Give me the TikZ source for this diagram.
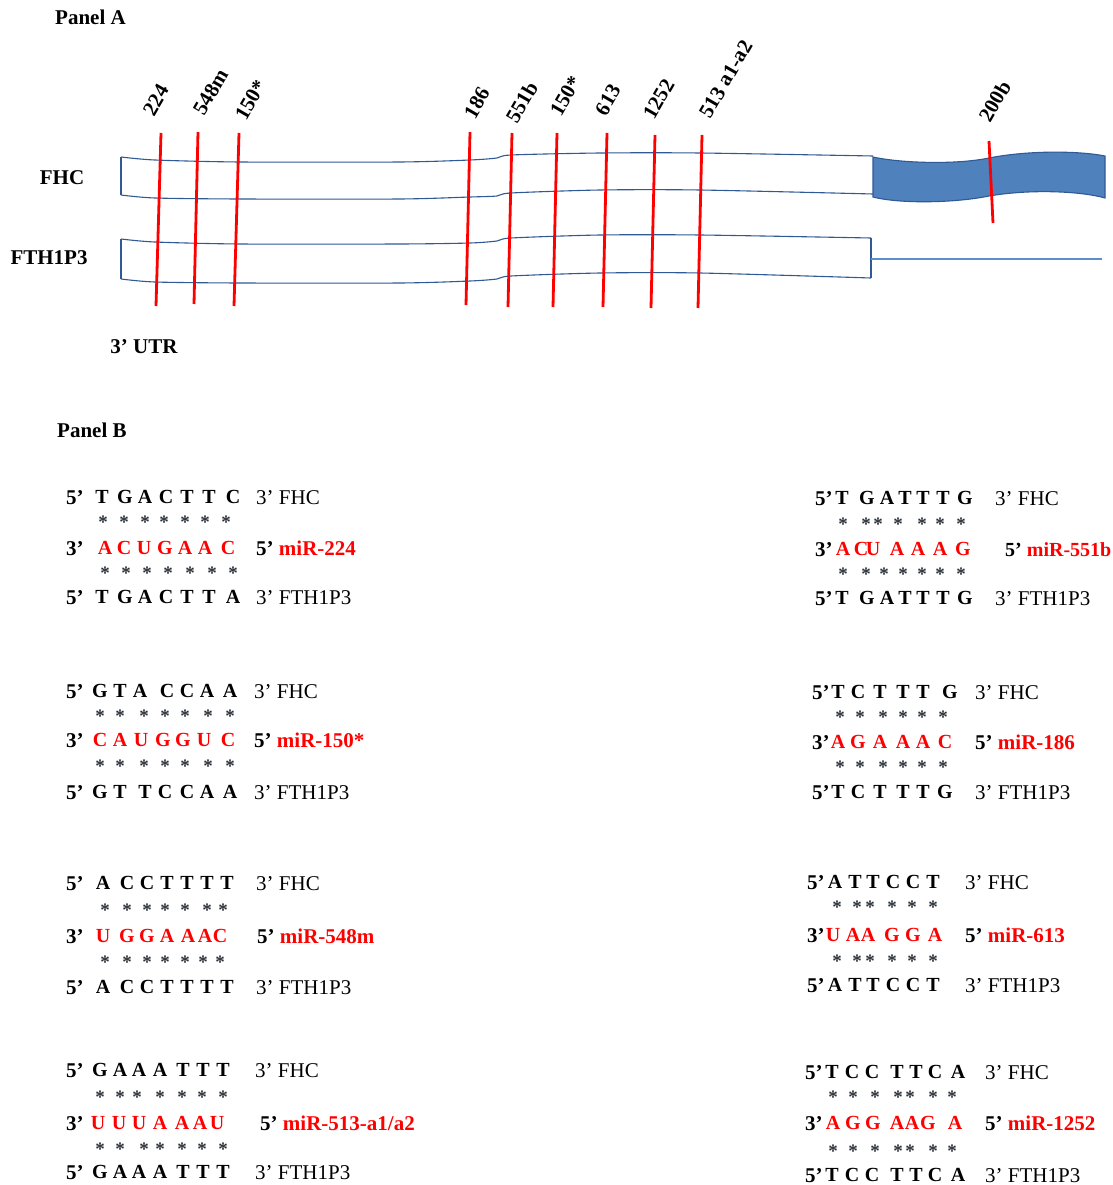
\documentclass[tikz,border=0pt]{standalone}
\usepackage{fontspec}
\setmainfont{Liberation Serif}
\definecolor{mirred}{HTML}{FF0000}
\definecolor{strandblue}{HTML}{2F5A96}
\definecolor{fillblue}{HTML}{4F81BD}
\definecolor{thinblue}{HTML}{5B8FCB}
\definecolor{stargray}{HTML}{2A3038}
\newcommand\seqline[4]{\foreach \x/\l [count=\i] in {#3} \node[seq,text=#2] (#4\i) at (\x,#1) {\l};}
\newcommand\starline[3]{\foreach \x [count=\i] in {#2} \node[star] (#3\i) at (\x,#1) {*};}
\tikzset{
  lbl/.style={font=\fontsize{21}{24}\selectfont\bfseries, inner sep=0pt, text height=14pt, text depth=0pt},
  rlbl/.style={font=\fontsize{21}{24}\selectfont\bfseries, inner sep=0pt, rotate=60},
  endlbl/.style={font=\fontsize{21}{24}\selectfont, inner sep=0pt, anchor=west, text height=14pt, text depth=0pt},
  prelbl/.style={font=\fontsize{21}{24}\selectfont\bfseries, inner sep=0pt, anchor=west, text height=14pt, text depth=0pt},
  seq/.style={font=\fontsize{20}{24}\selectfont\bfseries, inner sep=0pt, text height=13.5pt, text depth=0pt},
  star/.style={font=\fontsize{19}{22}\selectfont\bfseries, inner sep=0pt, text=stargray, text height=20pt, text depth=0pt},
  site/.style={draw=mirred, line width=2.8pt},
  strand/.style={draw=strandblue, line width=1.1pt},
}
\begin{document}
\begin{tikzpicture}[x=1pt,y=-1pt]
\useasboundingbox (0,0) rectangle (1112,1185);
\fill[white] (0,0) rectangle (1112,1185);

% ---------------- Panel A ----------------
\node[prelbl] (panelA) at (55,18) {Panel A};
\node[lbl] (fhc) at (62,178) {FHC};
\node[lbl] (fth) at (49,257) {FTH1P3};
\node[lbl] (utr) at (144,346) {3' UTR};

% FHC strand (white part)
\draw[strand] plot[smooth, tension=0.45] coordinates {(121,157) (155,160) (240,162) (400,162) (470,160) (497,158) (511,155) (600,153) (700,153) (873,156)};
\draw[strand] plot[smooth, tension=0.45] coordinates {(121,195) (155,198) (240,199) (400,199) (470,197) (497,196) (511,193) (600,190) (700,190) (873,194)};
\draw[strand] (121,157) -- (121,195);
% FHC strand (blue coding part)
\filldraw[fill=fillblue, draw=strandblue, line width=1.1pt]
  (873,157) .. controls (900,163) and (955,165) .. (989,158)
  .. controls (1030,150) and (1080,151) .. (1105,156)
  -- (1105,198)
  .. controls (1080,191) and (1030,189) .. (989,196)
  .. controls (955,203) and (900,204) .. (873,197) -- cycle;

% FTH1P3 strand
\draw[strand] plot[smooth, tension=0.45] coordinates {(121,239) (155,242) (240,244) (400,244) (470,243) (497,241) (511,238) (600,235) (700,235) (871,238)};
\draw[strand] plot[smooth, tension=0.45] coordinates {(121,279) (155,282) (240,283) (400,283) (470,281) (497,279) (511,276) (600,273) (700,273) (871,278)};
\draw[strand] (121,239) -- (121,279);
\draw[strand] (871,238) -- (871,278);
\coordinate (tailA) at (871,259);
\coordinate (tailB) at (1102,259);
\draw[draw=thinblue, line width=1.2pt] (tailA) -- (tailB);

% binding sites
\draw[site] (161,133) -- (156,306);
\draw[site] (198,132) -- (194,304);
\draw[site] (239,133) -- (234,306);
\draw[site] (470,132) -- (466,305);
\draw[site] (512,133) -- (508,307);
\draw[site] (557,133) -- (553,307);
\draw[site] (607,133) -- (603,307);
\draw[site] (655,135) -- (651,308);
\draw[site] (702,135) -- (698,308);
\draw[site] (989,141) -- (993,223);

\node[rlbl] (l224) at (156,100) {224};
\node[rlbl] (l548) at (211,92) {548m};
\node[rlbl] (l150a) at (251,100) {150*};
\node[rlbl] (l186) at (477,103) {186};
\node[rlbl] (l551) at (522,102) {551b};
\node[rlbl] (l150b) at (566,96) {150*};
\node[rlbl] (l613) at (608,100) {613};
\node[rlbl] (l1252) at (659,99) {1252};
\node[rlbl] (l513) at (726,79) {513 a1-a2};
\node[rlbl] (l200) at (995,101) {200b};

% ---------------- Panel B ----------------
\node[prelbl] (panelB) at (57,430) {Panel B};

% miR-224
\node[prelbl] (a1p) at (66,497) {5'};
\seqline{497}{black}{102/T,125/G,145/A,166/C,187/T,209/T,233/C}{a1s}
\node[endlbl] (a1e) at (256,497) {3' FHC};
\starline{518}{103,124,145,164,185,205,226}{a1x}
\node[prelbl] (a2p) at (66,548) {3'};
\seqline{548}{mirred}{105/A,124/C,144/U,165/G,185/A,205/A,228/C}{a2s}
\node[prelbl] (a2e) at (256,548) {5' \textcolor{mirred}{miR-224}};
\starline{569}{105,126,147,168,190,212,233}{a2x}
\node[prelbl] (a3p) at (66,597) {5'};
\seqline{597}{black}{102/T,125/G,145/A,166/C,187/T,209/T,233/A}{a3s}
\node[endlbl] (a3e) at (256,597) {3' FTH1P3};

% miR-150*
\node[prelbl] (b1p) at (66,691) {5'};
\seqline{691}{black}{100/G,120/T,140/A,167/C,187/C,207/A,230/A}{b1s}
\node[endlbl] (b1e) at (254,691) {3' FHC};
\starline{712}{100,120,144,165,185,208,230}{b1x}
\node[prelbl] (b2p) at (66,740) {3'};
\seqline{740}{mirred}{100/C,120/A,141/U,163/G,183/G,204/U,228/C}{b2s}
\node[prelbl] (b2e) at (254,740) {5' \textcolor{mirred}{miR-150*}};
\starline{762}{100,120,144,165,185,208,230}{b2x}
\node[prelbl] (b3p) at (66,792) {5'};
\seqline{792}{black}{100/G,120/T,145/T,165/C,187/C,207/A,230/A}{b3s}
\node[endlbl] (b3e) at (254,792) {3' FTH1P3};

% miR-548m
\node[prelbl] (c1p) at (66,883) {5'};
\seqline{883}{black}{103/A,127/C,147/C,167/T,187/T,207/T,227/T}{c1s}
\node[endlbl] (c1e) at (256,883) {3' FHC};
\starline{906}{105,127,147,165,185,207,223}{c1x}
\node[prelbl] (c2p) at (66,936) {3'};
\seqline{936}{mirred}{103/U,127/G,147/G,167/A,188/A,205/A,220/C}{c2s}
\node[prelbl] (c2e) at (257,936) {5' \textcolor{mirred}{miR-548m}};
\starline{958}{105,127,147,165,185,203,220}{c2x}
\node[prelbl] (c3p) at (66,987) {5'};
\seqline{987}{black}{103/A,127/C,147/C,167/T,187/T,207/T,227/T}{c3s}
\node[endlbl] (c3e) at (256,987) {3' FTH1P3};

% miR-513-a1/a2
\node[prelbl] (d1p) at (66,1070) {5'};
\seqline{1070}{black}{100/G,120/A,139/A,160/A,183/T,203/T,223/T}{d1s}
\node[endlbl] (d1e) at (255,1070) {3' FHC};
\starline{1093}{100,120,137,160,182,202,223}{d1x}
\node[prelbl] (d2p) at (66,1123) {3'};
\seqline{1123}{mirred}{98/U,119/U,139/U,160/A,182/A,200/A,217/U}{d2s}
\node[prelbl] (d2e) at (260,1123) {5' \textcolor{mirred}{miR-513-a1/a2}};
\starline{1145}{100,120,144,160,182,202,223}{d2x}
\node[prelbl] (d3p) at (66,1172) {5'};
\seqline{1172}{black}{100/G,120/A,139/A,160/A,183/T,203/T,223/T}{d3s}
\node[endlbl] (d3e) at (255,1172) {3' FTH1P3};

% miR-551b
\node[prelbl] (e1p) at (815,498) {5'};
\seqline{498}{black}{842/T,867/G,887/A,905/T,923/T,943/T,965/G}{e1s}
\node[endlbl] (e1e) at (995,498) {3' FHC};
\starline{520}{843,866,878,898,922,940,961}{e1x}
\node[prelbl] (e2p) at (815,549) {3'};
\seqline{549}{mirred}{843/A,861/C,873/U,897/A,918/A,940/A,963/G}{e2s}
\node[prelbl, font=\fontsize{20}{24}\selectfont\bfseries] (e2e) at (1005,549) {5' \textcolor{mirred}{miR-551b}};
\starline{570}{843,866,884,903,922,940,961}{e2x}
\node[prelbl] (e3p) at (815,598) {5'};
\seqline{598}{black}{842/T,867/G,887/A,905/T,923/T,943/T,965/G}{e3s}
\node[endlbl] (e3e) at (995,598) {3' FTH1P3};

% miR-186
\node[prelbl] (f1p) at (812,692) {5'};
\seqline{692}{black}{838/T,858/C,880/T,903/T,923/T,950/G}{f1s}
\node[endlbl] (f1e) at (975,692) {3' FHC};
\starline{713}{840,860,883,903,922,943}{f1x}
\node[prelbl] (f2p) at (812,742) {3'};
\seqline{742}{mirred}{838/A,858/G,880/A,903/A,923/A,945/C}{f2s}
\node[prelbl] (f2e) at (975,742) {5' \textcolor{mirred}{miR-186}};
\starline{763}{840,860,883,903,922,943}{f2x}
\node[prelbl] (f3p) at (812,792) {5'};
\seqline{792}{black}{838/T,858/C,880/T,903/T,923/T,945/G}{f3s}
\node[endlbl] (f3e) at (975,792) {3' FTH1P3};

% miR-613
\node[prelbl] (g1p) at (807,882) {5'};
\seqline{882}{black}{835/A,855/T,873/T,893/C,913/C,933/T}{g1s}
\node[endlbl] (g1e) at (965,882) {3' FHC};
\starline{903}{837,857,870,892,912,933}{g1x}
\node[prelbl] (g2p) at (807,935) {3'};
\seqline{935}{mirred}{833/U,853/A,868/A,892/G,913/G,935/A}{g2s}
\node[prelbl] (g2e) at (965,935) {5' \textcolor{mirred}{miR-613}};
\starline{957}{837,857,870,892,912,933}{g2x}
\node[prelbl] (g3p) at (807,985) {5'};
\seqline{985}{black}{835/A,855/T,873/T,893/C,913/C,933/T}{g3s}
\node[endlbl] (g3e) at (965,985) {3' FTH1P3};

% miR-1252
\node[prelbl] (h1p) at (805,1072) {5'};
\seqline{1072}{black}{832/T,852/C,872/C,897/T,916/T,935/C,958/A}{h1s}
\node[endlbl] (h1e) at (985,1072) {3' FHC};
\starline{1093}{833,853,875,898,910,933,952}{h1x}
\node[prelbl] (h2p) at (805,1123) {3'};
\seqline{1123}{mirred}{833/A,853/G,873/G,897/A,912/A,928/G,955/A}{h2s}
\node[prelbl] (h2e) at (985,1123) {5' \textcolor{mirred}{miR-1252}};
\starline{1147}{833,853,875,898,910,933,952}{h2x}
\node[prelbl] (h3p) at (805,1175) {5'};
\seqline{1175}{black}{832/T,852/C,872/C,897/T,916/T,935/C,958/A}{h3s}
\node[endlbl] (h3e) at (985,1175) {3' FTH1P3};
\end{tikzpicture}
\end{document}
